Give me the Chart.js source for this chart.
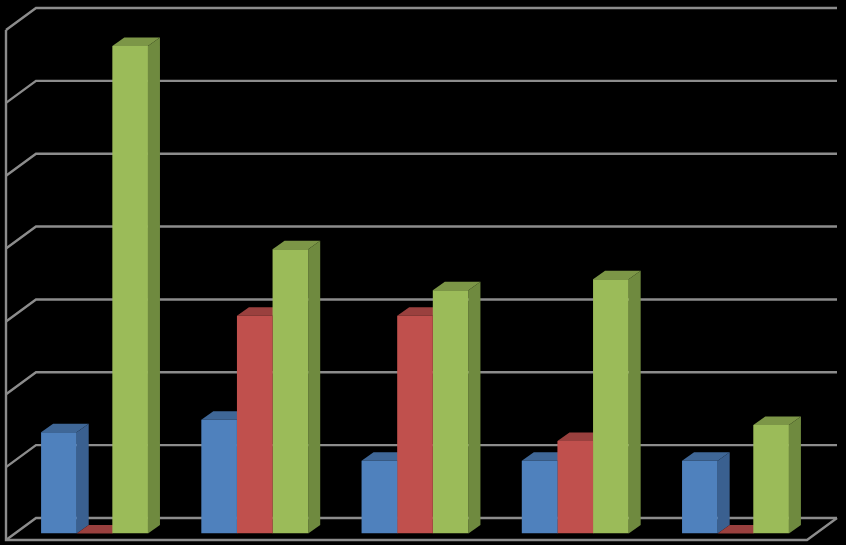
<!DOCTYPE html>
<html>
<head>
<meta charset="utf-8">
<title>3D bars</title>
<script src="https://cdn.jsdelivr.net/npm/chart.js@4"></script>
<style>
  html, body { margin: 0; padding: 0; background: #000; overflow: hidden; }
  canvas { display: block; }
</style>
</head>
<body>
<canvas id="chart" width="846" height="545"></canvas>
<script>
const categories = ['1', '2', '3', '4', '5'];
const blueValues = [1.39, 1.56, 1.0, 1.0, 1.0];
const redValues = [0, 2.99, 2.99, 1.27, 0];
const greenValues = [6.69, 3.9, 3.34, 3.49, 1.49];

const gridColor = '#8c8c8c';

// front colour, top face, side face
const blueFaces = ['#4f81bd', '#3f6797', '#3a6090'];
const redFaces = ['#c0504d', '#9a403e', '#8f3a38'];
const greenFaces = ['#9bbb59', '#7c9647', '#6f8a3f'];
const faces = [blueFaces, redFaces, greenFaces];

function poly(ctx, pts, color) {
  ctx.fillStyle = color;
  ctx.beginPath();
  pts.forEach((p, i) => i ? ctx.lineTo(p[0], p[1]) : ctx.moveTo(p[0], p[1]));
  ctx.closePath();
  ctx.fill();
}

// walls and floor of the 3d box, under the bars
const wallPlugin = {
  id: 'walls',
  beforeDatasetsDraw(chart) {
    const ctx = chart.ctx;
    const y = chart.scales.y;
    const left = 6, backLeft = 36, backRight = 837, frontRight = 807;
    const front = 6.5, back = -15.5;
    ctx.save();
    ctx.strokeStyle = gridColor;
    ctx.lineWidth = 2.4;
    y.ticks.forEach(t => {
      const py = y.getPixelForValue(t.value);
      ctx.beginPath();
      ctx.moveTo(left, py + front);
      ctx.lineTo(backLeft, py + back);
      ctx.lineTo(backRight, py + back);
      ctx.stroke();
    });
    const p0 = y.getPixelForValue(0), pTop = y.getPixelForValue(y.max);
    ctx.beginPath();
    ctx.moveTo(left, pTop + front);
    ctx.lineTo(left, p0 + front);
    ctx.lineTo(frontRight, p0 + front);
    ctx.lineTo(backRight, p0 + back);
    ctx.stroke();
    ctx.restore();
  }
};

// top and side faces, the library draws the front face after this
const depthPlugin = {
  id: 'depth',
  beforeDatasetsDraw(chart) {
    const ctx = chart.ctx;
    const dx = 12, dy = 8.5;
    ctx.save();
    chart.data.datasets.forEach((ds, i) => {
      chart.getDatasetMeta(i).data.forEach(bar => {
        const l = bar.x - bar.width / 2, r = bar.x + bar.width / 2;
        const t = bar.y, b = bar.base;
        poly(ctx, [[l, t], [r, t], [r + dx, t - dy], [l + dx, t - dy]], faces[i][1]);
        poly(ctx, [[r, t], [r + dx, t - dy], [r + dx, b - dy], [r, b]], faces[i][2]);
      });
    });
    ctx.restore();
  }
};

new Chart(document.getElementById('chart'), {
  type: 'bar',
  data: {
    labels: categories,
    datasets: [
      { data: blueValues, backgroundColor: blueFaces[0] },
      { data: redValues, backgroundColor: redFaces[0] },
      { data: greenValues, backgroundColor: greenFaces[0] }
    ]
  },
  options: {
    responsive: false,
    animation: false,
    devicePixelRatio: 1,
    layout: { padding: { left: 14.4, right: 30.4, top: 23.5, bottom: 11.5 } },
    datasets: { bar: { barPercentage: 1, categoryPercentage: 0.667 } },
    plugins: { legend: { display: false }, tooltip: { enabled: false } },
    scales: {
      x: { display: false },
      y: { display: false, min: 0, max: 7, ticks: { stepSize: 1 } }
    }
  },
  plugins: [wallPlugin, depthPlugin]
});
</script>
</body>
</html>
